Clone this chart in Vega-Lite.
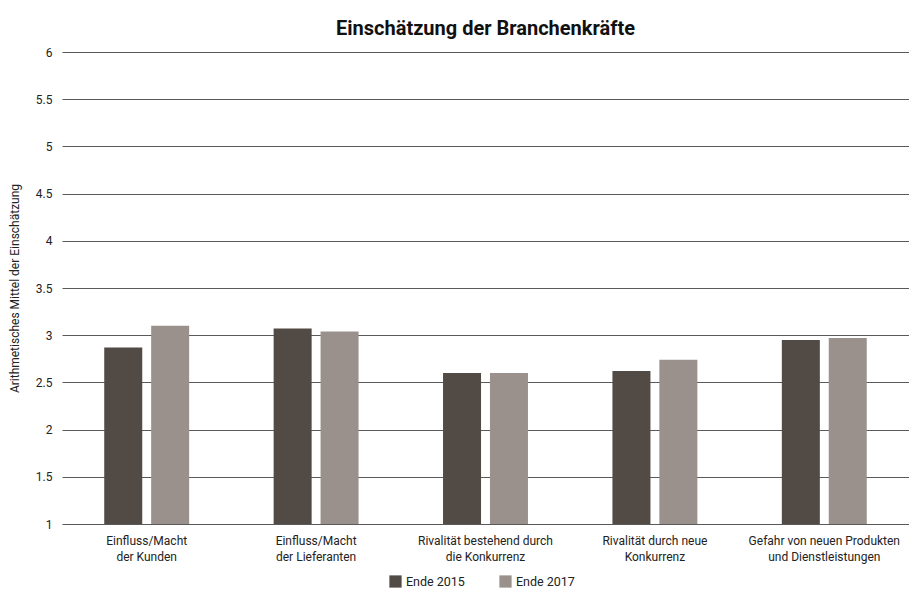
{
  "$schema": "https://vega.github.io/schema/vega-lite/v6.json",
  "width": 847,
  "height": 472,
  "padding": {"left": 8, "top": 19, "right": 0, "bottom": 0},
  "background": "white",
  "config": {"view": {"stroke": null}, "font": "Roboto"},
  "title": {"text": "Einschätzung der Branchenkräfte", "fontSize": 20, "font": "Roboto", "fontWeight": "bold", "anchor": "middle", "offset": 7, "color": "#111"},
  "data": {"values": [
    {"kategorie": "Einfluss/Macht|der Kunden", "jahr": "Ende 2015", "wert": 2.87},
    {"kategorie": "Einfluss/Macht|der Kunden", "jahr": "Ende 2017", "wert": 3.10},
    {"kategorie": "Einfluss/Macht|der Lieferanten", "jahr": "Ende 2015", "wert": 3.07},
    {"kategorie": "Einfluss/Macht|der Lieferanten", "jahr": "Ende 2017", "wert": 3.04},
    {"kategorie": "Rivalität bestehend durch|die Konkurrenz", "jahr": "Ende 2015", "wert": 2.60},
    {"kategorie": "Rivalität bestehend durch|die Konkurrenz", "jahr": "Ende 2017", "wert": 2.60},
    {"kategorie": "Rivalität durch neue|Konkurrenz", "jahr": "Ende 2015", "wert": 2.62},
    {"kategorie": "Rivalität durch neue|Konkurrenz", "jahr": "Ende 2017", "wert": 2.74},
    {"kategorie": "Gefahr von neuen Produkten|und Dienstleistungen", "jahr": "Ende 2015", "wert": 2.95},
    {"kategorie": "Gefahr von neuen Produkten|und Dienstleistungen", "jahr": "Ende 2017", "wert": 2.97}
  ]},
  "mark": {"type": "bar"},
  "encoding": {
    "x": {
      "field": "kategorie", "type": "nominal", "sort": null,
      "scale": {"paddingInner": 0, "paddingOuter": 0},
      "axis": {"title": null, "labelAngle": 0, "labelExpr": "split(datum.value, '|')", "domain": false, "ticks": false, "labelFont": "Roboto", "labelFontSize": 12, "labelColor": "#222", "labelPadding": 11, "labelLineHeight": 16}
    },
    "xOffset": {"field": "jahr", "type": "nominal", "scale": {"paddingInner": 0.19, "paddingOuter": 0.9}},
    "y": {
      "field": "wert", "type": "quantitative",
      "scale": {"domain": [1, 6], "nice": false, "zero": false},
      "axis": {"values": [1, 1.5, 2, 2.5, 3, 3.5, 4, 4.5, 5, 5.5, 6], "format": "~g", "title": "Arithmetisches Mittel der Einschätzung", "titleFont": "Roboto", "titleFontSize": 12, "titleFontWeight": "normal", "titleColor": "#222", "titlePadding": 14, "grid": true, "gridColor": "#5a5a5a", "gridWidth": 1, "gridOpacity": 1, "domain": false, "ticks": false, "labelPadding": 10, "labelFont": "Roboto", "labelFontSize": 12, "labelColor": "#222"}
    },
    "y2": {"datum": 1},
    "color": {
      "field": "jahr", "type": "nominal",
      "scale": {"domain": ["Ende 2015", "Ende 2017"], "range": ["#524a45", "#9a918c"]},
      "legend": {"title": null, "orient": "none", "legendX": 327, "legendY": 523, "direction": "horizontal", "symbolType": "square", "symbolSize": 150, "symbolStrokeWidth": 0, "symbolOpacity": 1, "labelFont": "Roboto", "labelFontSize": 12.5, "labelColor": "#222", "columnPadding": 34}
    }
  }
}
